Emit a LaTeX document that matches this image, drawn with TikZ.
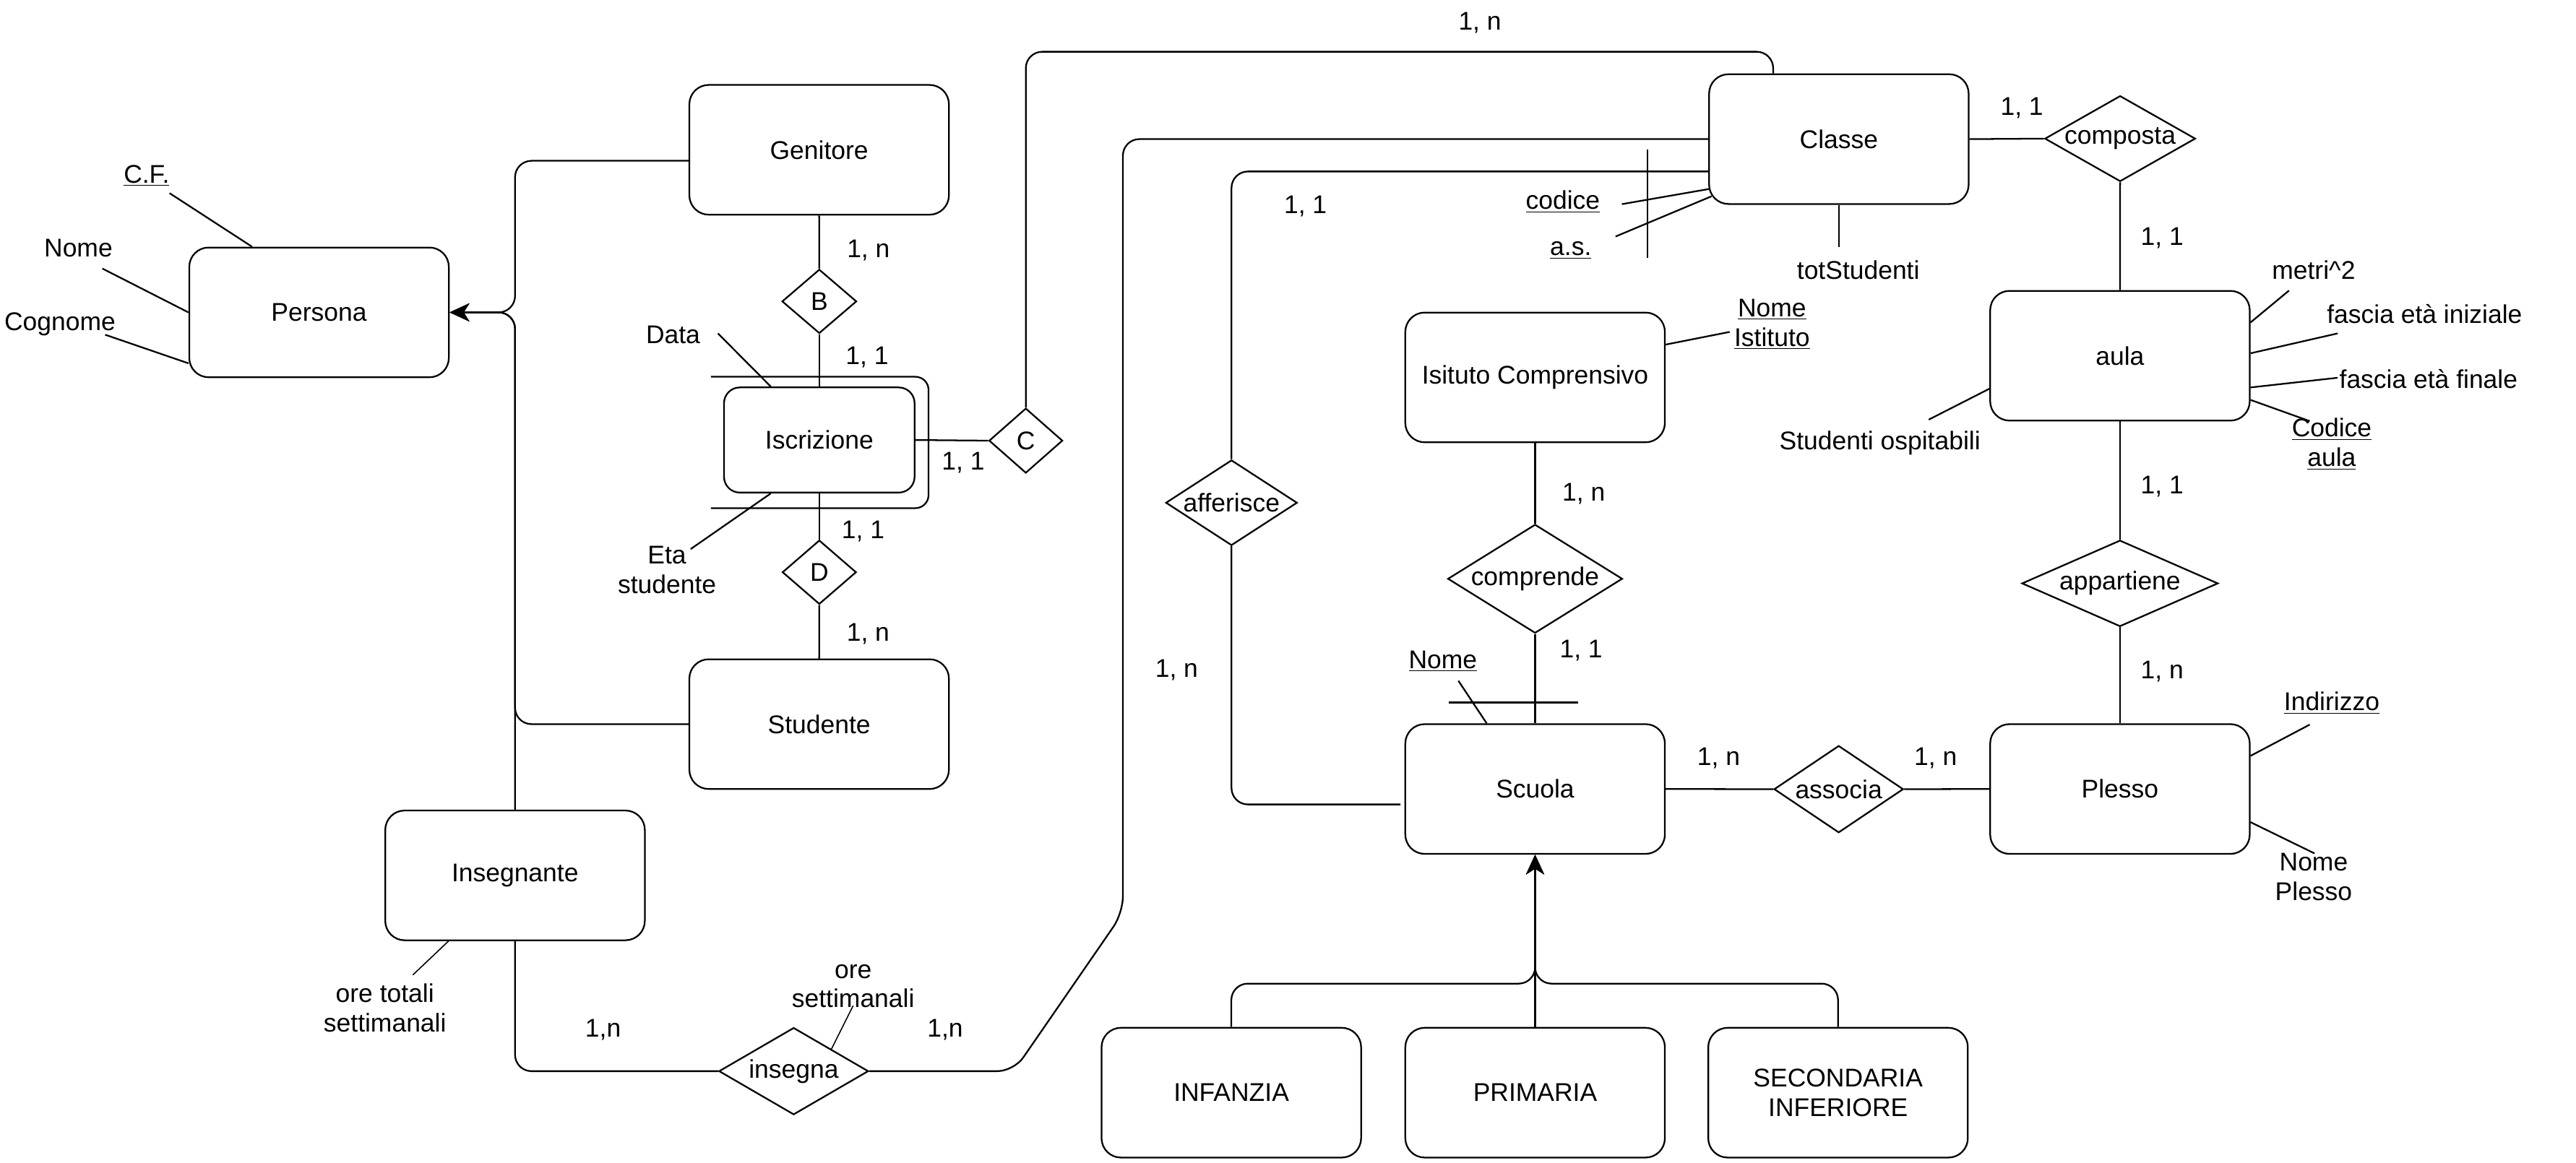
\documentclass[tikz,border=0pt]{standalone}
\usepackage{fontspec}
\setmainfont{Liberation Sans}
\usetikzlibrary{shapes.geometric,arrows.meta,calc}
\begin{document}
\begin{tikzpicture}[x=1pt,y=-1pt,
  every node/.style={font=\fontsize{15.6pt}{18pt}\selectfont, inner sep=0pt, align=center},
  ent/.style={draw, rounded corners=11.8pt, minimum width=158pt, minimum height=79pt, line width=1pt},
  dia/.style={draw, diamond, inner sep=0pt, line width=1pt},
  conn/.style={line width=1pt, rounded corners=10pt},
  attr/.style={line width=1pt},
  thinattr/.style={line width=0.7pt},
  arr/.style={-{Stealth[length=12pt,width=11pt,inset=3.5pt]}},
  card/.style={}
]
\fill[white] (0,0) rectangle (1568,707.7);
\useasboundingbox (0,0) rectangle (1568,707.7);

% entities
\node[ent] (persona) at (194.2,190.2) {Persona};
\node[ent] (genitore) at (498.6,91.2) {Genitore};
\node[ent, minimum width=116pt, minimum height=64pt, rounded corners=9.6pt] (iscr) at (498.7,267.9) {Iscrizione};
\node[ent] (studente) at (498.6,440.9) {Studente};
\node[ent] (insegnante) at (313.5,533) {Insegnante};
\node[ent] (classe) at (1119.3,84.7) {Classe};
\node[ent] (aula) at (1290.4,216.6) {aula};
\node[ent] (ic) at (934.4,229.8) {Isituto Comprensivo};
\node[ent] (scuola) at (934.4,480.4) {Scuola};
\node[ent] (plesso) at (1290.4,480.4) {Plesso};
\node[ent] (infanzia) at (749.5,665.3) {INFANZIA};
\node[ent] (primaria) at (934.4,665.3) {PRIMARIA};
\node[ent] (secondaria) at (1118.8,665.3) {SECONDARIA\\INFERIORE};

% relationships
\node[dia, minimum width=45.4pt, minimum height=39pt, label=center:B] (B) at (498.7,183.5) {};
\node[dia, minimum width=44.8pt, minimum height=39.5pt, label=center:C] (C) at (624.4,268.3) {};
\node[dia, minimum width=45pt, minimum height=39pt, label=center:D] (D) at (498.7,348.4) {};
\node[dia, minimum width=91pt, minimum height=53pt, label=center:insegna] (insegna) at (483.1,652.2) {};
\node[dia, minimum width=80pt, minimum height=52pt, label=center:afferisce] (afferisce) at (749.6,306.1) {};
\node[dia, minimum width=106.3pt, minimum height=66.2pt, label=center:comprende] (comprende) at (934.4,352.4) {};
\node[dia, minimum width=78.7pt, minimum height=53pt, label=center:associa] (associa) at (1119.2,480.5) {};
\node[dia, minimum width=91.7pt, minimum height=52.2pt, label=center:composta] (composta) at (1290.5,84.4) {};
\node[dia, minimum width=119.4pt, minimum height=52.5pt, label=center:appartiene] (appartiene) at (1290.4,355.2) {};

% attribute texts
\node (cf) at (89.2,107) {\underline{C.F.}};
\node (nomeP) at (47.7,151) {Nome};
\node (cognome) at (36.5,197.2) {Cognome};
\node (data) at (409.7,203.8) {Data};
\node (eta) at (406,347) {Eta\\studente};
\node (codice) at (951.3,122.9) {\underline{codice}};
\node (as) at (956.1,152.5) {\underline{a.s.}};
\node (tot) at (1131.1,164.2) {totStudenti};
\node (metri) at (1408.3,164.3) {metri\textasciicircum 2};
\node (fi) at (1475.8,191.3) {fascia età iniziale};
\node (ff) at (1478.2,230.8) {fascia età finale};
\node (cod) at (1419.3,270.3) {\underline{Codice}\\\underline{aula}};
\node (osp) at (1144.3,269.6) {Studenti ospitabili};
\node (ni) at (1078.6,197.5) {\underline{Nome}\\\underline{Istituto}};
\node (nomeS) at (878.3,402.7) {\underline{Nome}};
\node (ind) at (1419.3,428.2) {\underline{Indirizzo}};
\node (np) at (1408.3,533.8) {Nome\\Plesso};
\node (ots) at (234.3,613.5) {ore totali\\settimanali};
\node (os) at (519.3,600.4) {ore\\settimanali};

% cardinalities
\node[card] (k01) at (900.8,13.9) {1, n};
\node[card] (k02) at (1230.7,65.9) {1, 1};
\node[card] (k03) at (1316.1,145) {1, 1};
\node[card] (k04) at (1316.1,296.4) {1, 1};
\node[card] (k05) at (1316.1,408.9) {1, n};
\node[card] (k06) at (1046.1,461.8) {1, n};
\node[card] (k07) at (1178.2,461.8) {1, n};
\node[card] (k08) at (964,300.7) {1, n};
\node[card] (k09) at (962.4,395.9) {1, 1};
\node[card] (k10) at (794.6,125.8) {1, 1};
\node[card] (k11) at (716.2,407.9) {1, n};
\node[card] (k12) at (528.6,152.5) {1, n};
\node[card] (k13) at (527.8,217.3) {1, 1};
\node[card] (k14) at (586.3,281.8) {1, 1};
\node[card] (k15) at (525.4,323.3) {1, 1};
\node[card] (k16) at (528.4,385.9) {1, n};
\node[card] (k17) at (367.1,627.2) {1,n};
\node[card] (k18) at (575.3,627.2) {1,n};

% attribute lines
\coordinate (cfA) at (103.2,117.6);
\draw[attr] (cfA) -- ($(persona.north west)+(38.7,0)$);
\coordinate (nomePA) at (62.3,163.5);
\draw[attr] (nomePA) -- (persona.west);
\coordinate (cogA) at (64,203.8);
\draw[attr] (cogA) -- ($(persona.south west)+(0,-9)$);
\coordinate (dataA) at (437,203);
\draw[attr] (dataA) -- ($(iscr.north west)+(29,0)$);
\coordinate (etaA) at (420.4,334.3);
\draw[attr] (etaA) -- ($(iscr.south west)+(29,0)$);
\draw[attr, rounded corners=8pt] ($(iscr.north west)+(-7.5,-6)$) -- ($(iscr.north east)+(8,-6)$) -- ($(iscr.south east)+(8,9)$) -- ($(iscr.south west)+(-7.5,9)$);

\coordinate (codA) at (987.2,124.3);
\draw[attr] (codA) -- ($(classe.west)+(0.3,30.4)$);
\coordinate (asA) at (983.4,144);
\draw[attr] (asA) -- ($(classe.west)+(2,34.8)$);
\coordinate (barT) at (1002.8,91.2);
\coordinate (barB) at (1002.8,157.2);
\draw[attr] (barT) -- (barB);
\coordinate (totA) at (1119.3,150.6);
\draw[attr] (classe.south) -- (totA);

\coordinate (metA) at (1393.3,176.9);
\draw[attr] (metA) -- ($(aula.east)+(0,-20.3)$);
\coordinate (fiA) at (1422.9,203);
\draw[attr] (fiA) -- ($(aula.east)+(0,-1.5)$);
\coordinate (ffA) at (1422.9,230);
\draw[attr] (ffA) -- ($(aula.east)+(0,19.3)$);
\coordinate (codAulaA) at (1405.9,256.4);
\draw[attr] (codAulaA) -- ($(aula.east)+(0,26.9)$);
\coordinate (ospA) at (1174,255.5);
\draw[attr] (ospA) -- ($(aula.west)+(0,20.1)$);

\coordinate (niA) at (1052.8,202.1);
\draw[attr] (niA) -- ($(ic.east)+(0,-20)$);
\coordinate (nsA) at (887.7,414.5);
\draw[attr] (nsA) -- ($(scuola.north west)+(50,0)$);
\coordinate (idL) at (881.7,427.7);
\coordinate (idR) at (960.6,427.7);
\draw[attr] (idL) -- (idR);
\coordinate (indA) at (1405.9,441.2);
\draw[attr] (indA) -- ($(plesso.east)+(0,-20.2)$);
\coordinate (npA) at (1408.8,519.6);
\draw[attr] (npA) -- ($(plesso.east)+(0,20.2)$);
\coordinate (otsA) at (251.3,593.6);
\draw[thinattr] (otsA) -- ($(insegnante.south west)+(39,0)$);
\coordinate (osA) at (519.3,612.3);
\draw[thinattr] (osA) -- (insegna.north east);

% relationship connectors
\draw[conn] (genitore.south) -- (B.north);
\draw[conn] (B.south) -- (iscr.north);
\draw[conn] (iscr.south) -- (D.north);
\draw[conn] (D.south) -- (studente.north);
\draw[conn] (iscr.east) -- (C.west);

\coordinate (pj) at (313.5,190.2);
\draw[conn,arr] ($(genitore.west)+(0,6.7)$) -| (pj) -- (persona.east);
\draw[conn,arr] (studente.west) -| (pj) -- (persona.east);
\draw[conn,arr] (insegnante.north) |- (persona.east);
\draw[conn] (insegnante.south) |- (insegna.west);

\coordinate (v1) at (683.5,84.7);
\coordinate (v2) at (683.5,555.9);
\coordinate (v3) at (617.1,652.2);
\draw[conn] (classe.west) -- (v1) -- (v2) -- (v3) -- (insegna.east);

\coordinate (ctop) at (1079.3,31.5);
\draw[conn] (C.north) |- (ctop) -- (ctop |- classe.north);

\coordinate (af1) at (749.6,104.4);
\draw[conn] ($(classe.west)+(0,19.7)$) -- (af1) -- (afferisce.north);
\coordinate (af2) at (749.6,489.8);
\draw[conn] (afferisce.south) -- (af2) -- ($(scuola.west)+(-2.5,9.4)$);

\draw[conn] (classe.east) -- (composta.west);
\draw[conn] (composta.south) -- (aula.north);
\draw[conn] (aula.south) -- (appartiene.north);
\draw[conn] (appartiene.south) -- (plesso.north);
\draw[conn] (ic.south) -- (comprende.north);
\draw[conn] (comprende.south) -- (scuola.north);
\draw[conn] (scuola.east) -- (associa.west);
\draw[conn] (associa.east) -- (plesso.west);

\coordinate (gj) at (934.4,598.9);
\draw[conn,arr] (infanzia.north) |- (gj) -- (scuola.south);
\draw[conn,arr] (primaria.north) -- (scuola.south);
\draw[conn,arr] (secondaria.north) |- (gj) -- (scuola.south);
\end{tikzpicture}
\end{document}
